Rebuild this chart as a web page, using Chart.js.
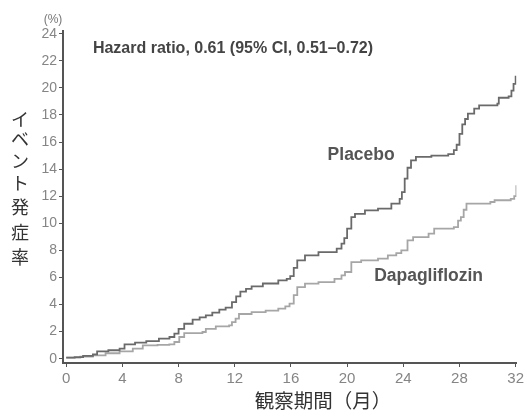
<!DOCTYPE html>
<html>
<head>
<meta charset="utf-8">
<script src="https://cdn.jsdelivr.net/npm/chart.js@4.4.1/dist/chart.umd.min.js"></script>
<style>
  html, body { margin: 0; padding: 0; background: #ffffff; }
  #wrap { width: 527px; height: 416px; position: relative; }
</style>
</head>
<body>
<div id="wrap"><canvas id="km"></canvas></div>
<script>
// tick labels
const xTicks = [0, 4, 8, 12, 16, 20, 24, 28, 32];
const yTicks = [0, 2, 4, 6, 8, 10, 12, 14, 16, 18, 20, 22, 24];

// placebo curve (months, event rate %)
const placeboMonths = [0, 0.6, 1.2, 1.9, 2.2, 3.0, 3.8, 4.15, 4.9, 5.7, 6.6, 7.35, 7.7, 8.0, 8.4, 9.0, 9.5, 9.94,
  10.4, 10.9, 11.35, 11.8, 12.1, 12.4, 12.8, 13.2, 14.0, 15.1, 15.7, 15.95, 16.2, 16.45, 17.0, 17.96, 19.26, 19.6,
  19.8, 20.0, 20.3, 20.56, 21.27, 22.2, 23.15, 23.74, 23.9, 24.1, 24.3, 24.55, 24.9, 26.0, 27.2, 27.6, 27.8, 28.0,
  28.2, 28.4, 28.6, 29.05, 29.4, 30.7, 30.8, 31.5, 31.7, 31.85, 32.0];
const placeboRates = [0.07, 0.12, 0.2, 0.32, 0.54, 0.62, 0.74, 1.05, 1.18, 1.3, 1.48, 1.6, 1.85, 2.2, 2.58, 2.88, 3.05, 3.2,
  3.4, 3.62, 3.77, 4.18, 4.6, 4.95, 5.15, 5.34, 5.55, 5.78, 5.9, 6.1, 6.7, 7.26, 7.63, 7.87, 8.12, 8.5,
  8.9, 9.6, 10.46, 10.7, 10.95, 11.08, 11.45, 11.8, 12.3, 13.3, 14.1, 14.64, 14.9, 15.0, 15.1, 15.4, 15.8, 16.6,
  17.3, 17.7, 18.1, 18.46, 18.7, 18.83, 19.27, 19.37, 19.8, 20.3, 20.9];

// dapagliflozin curve (months, event rate %)
const dapaMonths = [0, 1.0, 1.9, 2.8, 3.8, 4.74, 5.45, 6.5, 7.34, 7.7, 8.05, 8.4, 9.7, 9.94, 10.65, 11.6, 11.8, 12.06,
  12.3, 13.2, 14.2, 15.1, 15.6, 15.9, 16.2, 16.45, 17.0, 17.96, 19.1, 19.6, 19.85, 20.3, 21.0, 22.2, 22.9, 23.5,
  23.86, 24.3, 24.7, 25.8, 26.2, 27.6, 27.9, 28.1, 28.3, 28.5, 28.8, 30.2, 30.5, 31.65, 31.9, 32.05];
const dapaRates = [0.07, 0.15, 0.24, 0.4, 0.54, 0.74, 0.98, 1.02, 1.06, 1.23, 1.6, 1.89, 1.97, 2.2, 2.38, 2.46, 2.7, 2.95,
  3.3, 3.44, 3.55, 3.7, 3.86, 4.06, 4.7, 5.29, 5.54, 5.66, 5.9, 6.15, 6.4, 7.13, 7.26, 7.39, 7.63, 7.8,
  8.0, 8.74, 8.98, 9.23, 9.6, 9.72, 10.2, 10.46, 11.0, 11.45, 11.45, 11.57, 11.7, 11.8, 12.0, 12.8];

const yTitle = 'イベント発症率';
const xTitle = '観察期間（月）';
const unitLabel = '(%)';
const hazardText = 'Hazard ratio, 0.61 (95% CI, 0.51–0.72)';

const narrow = '"Liberation Sans Narrow", "Liberation Sans", Arial, sans-serif';
const boldFont = '"Liberation Sans", Arial, sans-serif';
const jpFont = '"Noto Sans CJK JP", sans-serif';

function toPoints(xs, ys) {
  return xs.map((x, i) => ({ x, y: ys[i] }));
}

const labelsPlugin = {
  id: 'kmLabels',
  afterDraw(chart) {
    const { ctx, scales: { x, y }, chartArea } = chart;
    ctx.save();

    ctx.fillStyle = '#444';
    ctx.textBaseline = 'middle';
    ctx.textAlign = 'left';
    ctx.font = `bold 16px ${boldFont}`;
    ctx.fillText(hazardText, x.getPixelForValue(1.9), y.getPixelForValue(22.9));

    ctx.fillStyle = '#555';
    ctx.textAlign = 'center';
    ctx.font = `bold 17.5px ${boldFont}`;
    ctx.fillText('Placebo', x.getPixelForValue(21.0), y.getPixelForValue(15.0));
    ctx.fillText('Dapagliflozin', x.getPixelForValue(25.8), y.getPixelForValue(6.08));

    // unit above the y axis
    ctx.fillStyle = '#777';
    ctx.font = `12px ${narrow}`;
    ctx.fillText(unitLabel, 53, chartArea.top - 11);

    // vertical japanese title, upright characters (kana sit a bit tighter)
    ctx.fillStyle = '#333';
    ctx.font = `18px ${jpFont}`;
    const rows = [119, 139, 161, 183, 207, 232, 257];
    Array.from(yTitle).forEach((ch, i) => ctx.fillText(ch, 20, rows[i]));

    ctx.font = `19.5px ${jpFont}`;
    ctx.fillText(xTitle, 323, 401);
    ctx.restore();
  }
};

new Chart(document.getElementById('km'), {
  type: 'line',
  data: {
    datasets: [
      {
        label: 'Placebo',
        data: toPoints(placeboMonths, placeboRates),
        borderColor: '#6a6a6a',
        borderWidth: 1.8,
        stepped: 'before',
        pointRadius: 0,
        fill: false,
      },
      {
        label: 'Dapagliflozin',
        data: toPoints(dapaMonths, dapaRates),
        borderColor: '#a6a6a6',
        borderWidth: 1.8,
        stepped: 'before',
        pointRadius: 0,
        fill: false,
      },
    ],
  },
  options: {
    responsive: true,
    maintainAspectRatio: false,
    animation: false,
    layout: { padding: { top: 31, right: 9, left: 0, bottom: 0 } },
    plugins: {
      legend: { display: false },
      tooltip: { enabled: false },
    },
    scales: {
      x: {
        type: 'linear',
        min: -0.23,
        max: 32.05,
        afterBuildTicks(scale) {
          scale.ticks = xTicks.map((value) => ({ value }));
        },
        afterFit(scale) {
          scale.height = 53;
        },
        ticks: { color: '#858585', font: { family: narrow, size: 15 }, padding: 3, maxRotation: 0 },
        grid: { drawOnChartArea: false, drawTicks: true, tickLength: 4, color: '#555' },
        border: { display: true, color: '#555', width: 2 },
      },
      y: {
        type: 'linear',
        min: -0.32,
        max: 24.2,
        afterBuildTicks(scale) {
          scale.ticks = yTicks.map((value) => ({ value }));
        },
        afterFit(scale) {
          scale.width = 63;
        },
        ticks: { color: '#858585', font: { family: narrow, size: 14 }, padding: 2 },
        grid: { drawOnChartArea: false, drawTicks: true, tickLength: 4, color: '#555' },
        border: { display: true, color: '#555', width: 2 },
      },
    },
  },
  plugins: [labelsPlugin],
});
</script>
</body>
</html>
